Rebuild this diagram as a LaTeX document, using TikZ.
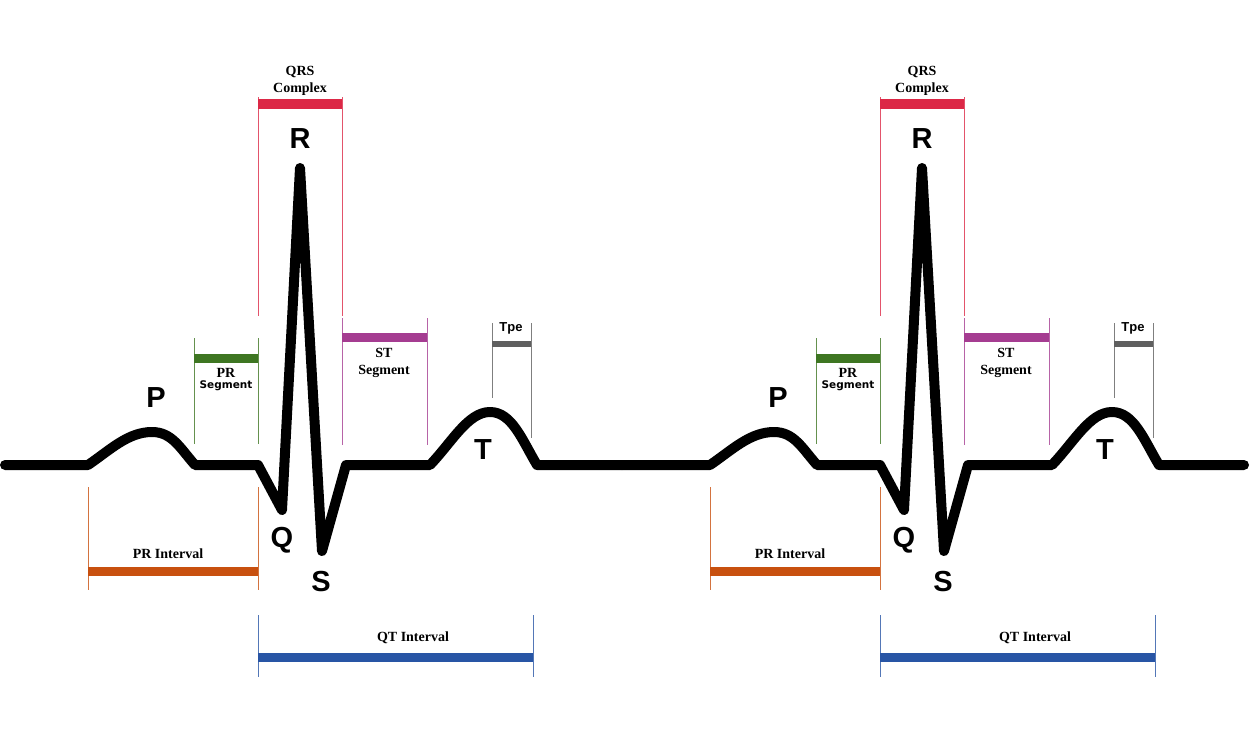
\documentclass[tikz,border=0pt]{standalone}
\usepackage{fontspec}
\setmainfont{Liberation Serif}
\newfontfamily\lsans{Liberation Sans}
\newfontfamily\dsans{DejaVu Sans}
\definecolor{qrsred}{RGB}{220,40,70}
\definecolor{prgreen}{RGB}{62,118,34}
\definecolor{stpurple}{RGB}{165,60,145}
\definecolor{tpegray}{RGB}{95,95,95}
\definecolor{prorange}{RGB}{200,80,15}
\definecolor{qtblue}{RGB}{40,85,165}
% name, colour, x1, x2, ytop, ybottom1, ybottom2, ybar, bar width
\newcommand\ecgbracket[9]{%
  \coordinate (#1-a1) at (#3,#5); \coordinate (#1-a2) at (#3,#6);
  \coordinate (#1-b1) at (#4,#5); \coordinate (#1-b2) at (#4,#7);
  \coordinate (#1-l) at (#3,#8); \coordinate (#1-r) at (#4,#8);
  \draw[tick,#2!80] (#1-a1) -- (#1-a2);
  \draw[tick,#2!80] (#1-b1) -- (#1-b2);
  \draw[#2,line width=#9] (#1-l) -- (#1-r);}
\begin{document}
\begin{tikzpicture}[x=1pt,y=-1pt,
  wave/.style={line width=10pt,line join=round,line cap=round},
  tick/.style={line width=1pt},
  big/.style={font=\lsans\bfseries\fontsize{29}{29}\selectfont,inner sep=0pt},
  lbl/.style={font=\bfseries\fontsize{14}{17}\selectfont,align=center,inner sep=0pt},
  sanslbl/.style={font=\dsans\bfseries\fontsize{10.5}{12}\selectfont,inner sep=0pt},
  tpelbl/.style={font=\lsans\bfseries\fontsize{13}{13}\selectfont,inner sep=0pt}]
\useasboundingbox[fill=white] (0,0) rectangle (1250,750);
\foreach \o/\s/\st in {0/a/5,622/b/0}{
\begin{scope}[xshift=\o pt]
  % brackets
  \ecgbracket{qrs\s}{qrsred}{258}{342}{97}{316}{316}{104}{10pt}
  \ecgbracket{prs\s}{prgreen}{194}{258}{338}{444}{444}{358}{9pt}
  \ecgbracket{sts\s}{stpurple}{342}{427}{318}{445}{445}{337}{9pt}
  \ecgbracket{tpe\s}{tpegray}{492}{531}{323}{398}{438}{344}{6pt}
  \ecgbracket{pri\s}{prorange}{88}{258}{487}{590}{590}{571}{9pt}
  \ecgbracket{qti\s}{qtblue}{258}{533}{615}{677}{677}{657}{9pt}
  % waveform
  \draw[wave] (\st,465) -- (88,465)
     .. controls (110,450) and (128,432) .. (152,432)
     .. controls (172,432) and (180,448) .. (195,465)
     -- (258,465) -- (282,510) -- (300,168) -- (322,551) -- (346,465)
     -- (430,465)
     .. controls (452,442) and (468,412) .. (490,412)
     .. controls (512,412) and (522,440) .. (537,465)
     -- (622,465);
  % wave letters
  \node[big] (P\s) at (156,398) {P};
  \node[big] (R\s) at (300,139) {R};
  \node[big] (Q\s) at (282,540) {Q};
  \node[big] (S\s) at (321,582) {S};
  \node[big] (T\s) at (483,450) {T};
  % interval labels
  \node[lbl] (qrslbl\s) at (300,81) {QRS\\Complex};
  \node[lbl] (prslbl\s) at (226,373) {PR};
  \node[sanslbl] (prslblb\s) at (226,386) {Segment};
  \node[lbl] (stslbl\s) at (384,363) {ST\\Segment};
  \node[tpelbl] (tpelbl\s) at (511,328) {Tpe};
  \node[lbl] (prilbl\s) at (168,554) {PR Interval};
  \node[lbl] (qtilbl\s) at (413,638) {QT Interval};
\end{scope}
}
\end{tikzpicture}
\end{document}
